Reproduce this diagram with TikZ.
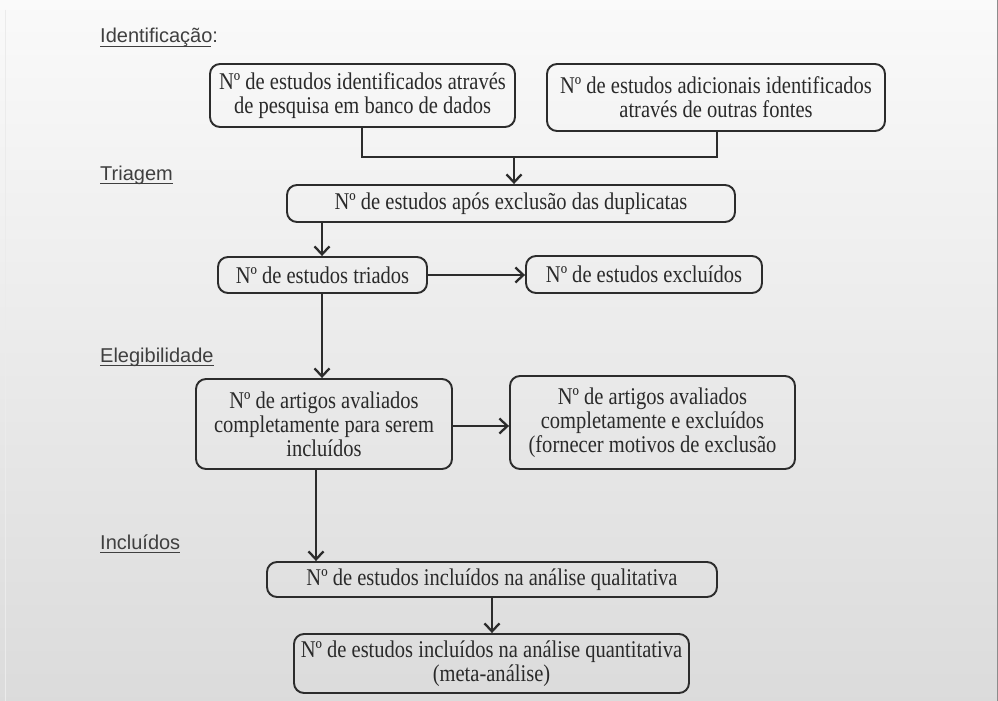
\documentclass[tikz,border=0pt]{standalone}
\usepackage{fontspec}
\setmainfont{Liberation Serif}[FakeStretch=0.855]
\newfontfamily\lblfont{Liberation Sans}
\usetikzlibrary{arrows.meta,calc}
\definecolor{ink}{HTML}{2A2A2A}
\definecolor{linec}{HTML}{2C2C2C}
\begin{document}
\begin{tikzpicture}[x=1pt,y=1pt,
  box/.style={draw=linec, line width=1.9pt, rounded corners=10pt, align=center,
    inner sep=0pt, text=ink, font=\fontsize{24}{24}\selectfont},
  lbl/.style={inner sep=0pt, anchor=base west, text=ink!90,
    font=\lblfont\fontsize{20}{23}\selectfont},
  uline/.style={draw=ink!90, line width=1.3pt},
  conn/.style={draw=linec, line width=2.3pt},
  arr/.style={conn, -{Straight Barb[length=8pt,width=15pt,line width=2.3pt]}}]
\shade[top color=white!98!black, bottom color=black!14] (0,0) rectangle (998,-701);
\useasboundingbox (0,0) rectangle (998,-701);
\draw[black!45, line width=1.5pt] (997.5,0) -- (997.5,-701);
\draw[black!8, line width=1pt] (5,-10) -- (5,-701);

% section labels
\node[lbl] (l1) at (100,-43) {Identificação:};
\node[lbl] (l2) at (100,-180) {Triagem};
\node[lbl] (l3) at (100,-362) {Elegibilidade};
\node[lbl] (l4) at (100,-549) {Incluídos};
\foreach \n/\w in {l1/0.94,l2/1,l3/1,l4/1}{
  \draw[uline] ([yshift=-3.5pt]\n.base west) -- ($([yshift=-3.5pt]\n.base west)!\w!([yshift=-3.5pt]\n.base east)$);
}

% boxes
\node[box, minimum width=305pt, minimum height=63pt] (b1) at (362.5,-95.5)
  {Nº de estudos identificados através\\de pesquisa em banco de dados};
\node[box, minimum width=338pt, minimum height=67pt] (b2) at (716,-97.5)
  {Nº de estudos adicionais identificados\\através de outras fontes};
\node[box, minimum width=448pt, minimum height=37pt] (b3) at (511,-203.5)
  {Nº de estudos após exclusão das duplicatas};
\node[box, minimum width=209pt, minimum height=36pt] (b4) at (322.5,-275)
  {Nº de estudos triados};
\node[box, minimum width=236pt, minimum height=37pt] (b5) at (644,-274.5)
  {Nº de estudos excluídos};
\node[box, minimum width=256pt, minimum height=90pt] (b6) at (324,-424)
  {Nº de artigos avaliados\\completamente para serem\\incluídos};
\node[box, minimum width=285pt, minimum height=93pt] (b7) at (652.5,-422.5)
  {Nº de artigos avaliados\\completamente e excluídos\\(fornecer motivos de exclusão};
\node[box, minimum width=450pt, minimum height=35pt] (b8) at (492,-579.5)
  {Nº de estudos incluídos na análise qualitativa};
\node[box, minimum width=395pt, minimum height=59pt] (b9) at (491.5,-663.5)
  {Nº de estudos incluídos na análise quantitativa\\(meta-análise)};

% connectors
\coordinate (j1) at (362,-157);
\coordinate (j2) at (717,-157);
\coordinate (jm) at (514,-157);
\draw[conn] (b1.south -| j1) -- (j1) -- (j2) -- (b2.south -| j2);
\draw[arr] (jm) -- (jm |- b3.north);
\coordinate (c3) at (322,-222);
\draw[arr] (b3.south -| c3) -- (c3 |- b4.north);
\draw[arr] (b4.east) -- (b4.east -| b5.west);
\draw[arr] (b4.south -| c3) -- (c3 |- b6.north);
\draw[arr] ([yshift=-2pt]b6.east) -- ([yshift=-2pt]b6.east -| b7.west);
\coordinate (c6) at (316,-470);
\draw[arr] (b6.south -| c6) -- (c6 |- b8.north);
\coordinate (c8) at (492,-600);
\draw[arr] (b8.south -| c8) -- (c8 |- b9.north);
\end{tikzpicture}
\end{document}
